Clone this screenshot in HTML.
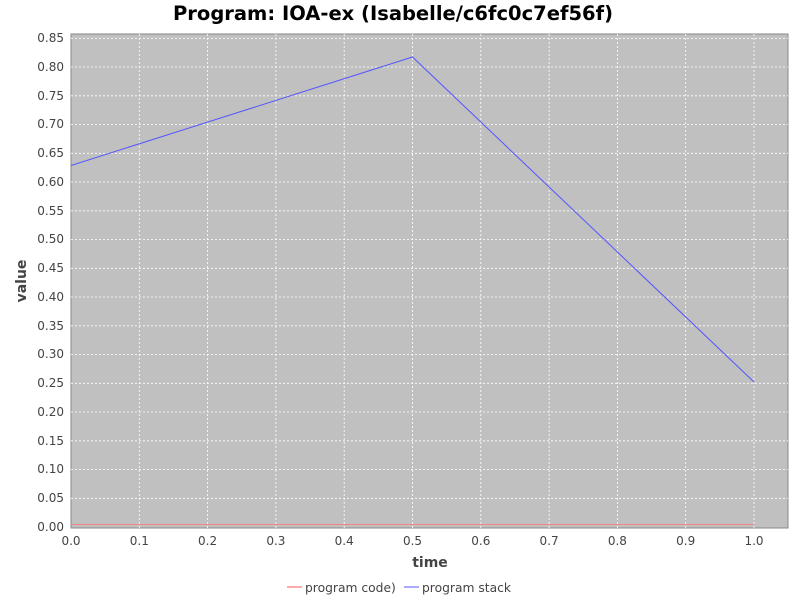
<!DOCTYPE html>
<html><head><style>body{margin:0;background:#fff}</style></head><body>
<svg width="800" height="600" xmlns="http://www.w3.org/2000/svg" font-family="DejaVu Sans, Liberation Sans, sans-serif">
<rect width="800" height="600" fill="#fff"/>
<text x="393" y="20" text-anchor="middle" font-size="19.5" font-weight="bold" fill="#000">Program: IOA-ex (Isabelle/c6fc0c7ef56f)</text>
<rect x="71" y="34" width="717" height="494" fill="#c0c0c0" stroke="#888" stroke-width="1"/>
<g stroke="#fff" stroke-width="0.8" stroke-dasharray="2,2">
<line x1="139.3" y1="34" x2="139.3" y2="528"/><line x1="207.6" y1="34" x2="207.6" y2="528"/><line x1="275.9" y1="34" x2="275.9" y2="528"/><line x1="344.2" y1="34" x2="344.2" y2="528"/><line x1="412.5" y1="34" x2="412.5" y2="528"/><line x1="480.8" y1="34" x2="480.8" y2="528"/><line x1="549.1" y1="34" x2="549.1" y2="528"/><line x1="617.4" y1="34" x2="617.4" y2="528"/><line x1="685.7" y1="34" x2="685.7" y2="528"/><line x1="754" y1="34" x2="754" y2="528"/>
<line x1="71" y1="38.3" x2="788" y2="38.3"/><line x1="71" y1="67" x2="788" y2="67"/><line x1="71" y1="95.8" x2="788" y2="95.8"/><line x1="71" y1="124.5" x2="788" y2="124.5"/><line x1="71" y1="153.3" x2="788" y2="153.3"/><line x1="71" y1="182" x2="788" y2="182"/><line x1="71" y1="210.8" x2="788" y2="210.8"/><line x1="71" y1="239.5" x2="788" y2="239.5"/><line x1="71" y1="268.3" x2="788" y2="268.3"/><line x1="71" y1="297" x2="788" y2="297"/><line x1="71" y1="325.8" x2="788" y2="325.8"/><line x1="71" y1="354.5" x2="788" y2="354.5"/><line x1="71" y1="383.3" x2="788" y2="383.3"/><line x1="71" y1="412" x2="788" y2="412"/><line x1="71" y1="440.8" x2="788" y2="440.8"/><line x1="71" y1="469.5" x2="788" y2="469.5"/><line x1="71" y1="498.3" x2="788" y2="498.3"/>
</g>
<line x1="71" y1="524.5" x2="754" y2="524.5" stroke="#e88" stroke-width="1"/>
<polyline points="71,165.5 412.5,57 754,382" fill="none" stroke="#5555ff" stroke-width="1"/>
<g font-size="12" fill="#444" text-anchor="end">
<text x="64" y="42">0.85</text><text x="64" y="71">0.80</text><text x="64" y="100">0.75</text><text x="64" y="128">0.70</text><text x="64" y="157">0.65</text><text x="64" y="186">0.60</text><text x="64" y="215">0.55</text><text x="64" y="243">0.50</text><text x="64" y="272">0.45</text><text x="64" y="301">0.40</text><text x="64" y="330">0.35</text><text x="64" y="358">0.30</text><text x="64" y="387">0.25</text><text x="64" y="416">0.20</text><text x="64" y="445">0.15</text><text x="64" y="473">0.10</text><text x="64" y="502">0.05</text><text x="64" y="531">0.00</text>
</g>
<g font-size="12" fill="#444" text-anchor="middle">
<text x="71" y="545">0.0</text><text x="139.3" y="545">0.1</text><text x="207.6" y="545">0.2</text><text x="275.9" y="545">0.3</text><text x="344.2" y="545">0.4</text><text x="412.5" y="545">0.5</text><text x="480.8" y="545">0.6</text><text x="549.1" y="545">0.7</text><text x="617.4" y="545">0.8</text><text x="685.7" y="545">0.9</text><text x="754" y="545">1.0</text>
</g>
<text x="430" y="567" text-anchor="middle" font-size="14" font-weight="bold" fill="#444">time</text>
<text x="26" y="281" text-anchor="middle" font-size="14" font-weight="bold" fill="#444" transform="rotate(-90 26 281)">value</text>
<line x1="287" y1="587" x2="302" y2="587" stroke="#ff5555"/>
<text x="305" y="592" font-size="12.3" fill="#444">program code)</text>
<line x1="404" y1="587" x2="419" y2="587" stroke="#5555ff"/>
<text x="422" y="592" font-size="12.3" fill="#444">program stack</text>
</svg>
</body></html>
